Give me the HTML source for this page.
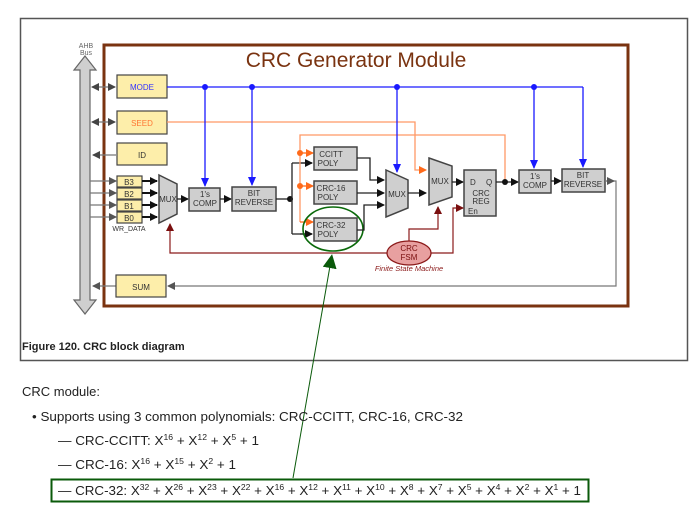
<!DOCTYPE html>
<html><head><meta charset="utf-8"><style>
html,body{margin:0;padding:0;background:#fff;}
svg{display:block;font-family:"Liberation Sans",sans-serif;}
.b{fill:#cfcfcf;stroke:#444;stroke-width:1.5}
.y{fill:#fdeeaa;stroke:#444;stroke-width:1.2}
.t{font-size:8px;fill:#333;text-anchor:middle}
.k{stroke:#222;stroke-width:1.3;fill:none}
.bl{stroke:#1a1aff;stroke-width:1.3;fill:none}
.or{stroke:#ff9966;stroke-width:1.3;fill:none}
.dr{stroke:#8b1a1a;stroke-width:1.2;fill:none}
.g{stroke:#777;stroke-width:1.2;fill:none}
.p{font-size:12.5px;fill:#222}
</style></head><body>
<svg width="700" height="514" viewBox="0 0 700 514">
<defs>
<marker id="ak" markerWidth="8" markerHeight="8" refX="7" refY="4" orient="auto" markerUnits="userSpaceOnUse"><path d="M0,0L8,4L0,8z" fill="#111"/></marker>
<marker id="ab" markerWidth="10" markerHeight="8" refX="8" refY="4" orient="auto" markerUnits="userSpaceOnUse"><path d="M0,0L9,4L0,8z" fill="#1a1aff"/></marker>
<marker id="ao" markerWidth="8" markerHeight="8" refX="7" refY="4" orient="auto" markerUnits="userSpaceOnUse"><path d="M0,0L8,4L0,8z" fill="#ff6a1a"/></marker>
<marker id="ar" markerWidth="8" markerHeight="8" refX="7" refY="4" orient="auto" markerUnits="userSpaceOnUse"><path d="M0,0L8,4L0,8z" fill="#7a0f0f"/></marker>
<marker id="ag" markerWidth="8" markerHeight="8" refX="7" refY="4" orient="auto" markerUnits="userSpaceOnUse"><path d="M0,0L8,4L0,8z" fill="#555"/></marker>
<marker id="agr" markerWidth="14" markerHeight="14" refX="2" refY="7" orient="auto" markerUnits="userSpaceOnUse"><path d="M0,0L14,7L0,14z" fill="#0a5a0a"/></marker>
<marker id="ad" markerWidth="8" markerHeight="8" refX="7" refY="4" orient="auto-start-reverse" markerUnits="userSpaceOnUse"><path d="M0,0L8,4L0,8z" fill="#444"/></marker>
</defs>
<rect x="20.5" y="18.5" width="667" height="342" fill="#fff" stroke="#555" stroke-width="1.5"/>
<rect x="104" y="45" width="524" height="261" fill="#fff" stroke="#7a3310" stroke-width="3"/>
<text x="356" y="67" font-size="21" fill="#7a3310" text-anchor="middle">CRC Generator Module</text>
<text x="86" y="48" font-size="7" fill="#666" text-anchor="middle">AHB</text>
<text x="86" y="55" font-size="7" fill="#666" text-anchor="middle">Bus</text>
<path d="M85,56 L96,70 L90,70 L90,300 L96,300 L85,314 L74,300 L80,300 L80,70 L74,70 Z" fill="#cfcfcf" stroke="#666" stroke-width="1.2"/>
<line x1="92" y1="87" x2="115" y2="87" class="g" stroke="#444" marker-start="url(#ad)" marker-end="url(#ad)"/>
<line x1="92" y1="122" x2="115" y2="122" class="g" stroke="#444" marker-start="url(#ad)" marker-end="url(#ad)"/>
<line x1="116" y1="155" x2="93" y2="155" class="g" stroke="#444" marker-end="url(#ad)"/>
<line x1="90" y1="181" x2="116" y2="181" class="g" marker-end="url(#ag)"/>
<line x1="90" y1="193" x2="116" y2="193" class="g" marker-end="url(#ag)"/>
<line x1="90" y1="205" x2="116" y2="205" class="g" marker-end="url(#ag)"/>
<line x1="90" y1="217" x2="116" y2="217" class="g" marker-end="url(#ag)"/>
<line x1="116" y1="286" x2="93" y2="286" class="g" marker-end="url(#ag)"/>
<rect x="117" y="75" width="50" height="23" class="y"/><text x="142" y="90" class="t" style="fill:#3333ff">MODE</text>
<rect x="117" y="111" width="50" height="23" class="y"/><text x="142" y="126" class="t" style="fill:#ff7733">SEED</text>
<rect x="117" y="143" width="50" height="22" class="y"/><text x="142" y="158" class="t">ID</text>
<rect x="117" y="176" width="25" height="11" class="y"/><text x="129" y="185" class="t">B3</text>
<rect x="117" y="188" width="25" height="11" class="y"/><text x="129" y="197" class="t">B2</text>
<rect x="117" y="200" width="25" height="11" class="y"/><text x="129" y="209" class="t">B1</text>
<rect x="117" y="212" width="25" height="11" class="y"/><text x="129" y="221" class="t">B0</text>
<text x="129" y="231" font-size="7" fill="#333" text-anchor="middle">WR_DATA</text>
<rect x="116" y="275" width="50" height="22" class="y"/><text x="141" y="290" class="t">SUM</text>
<g stroke="#111" stroke-width="2"><line x1="142" y1="181" x2="157" y2="181" marker-end="url(#ak)"/><line x1="142" y1="193" x2="157" y2="193" marker-end="url(#ak)"/><line x1="142" y1="205" x2="157" y2="205" marker-end="url(#ak)"/><line x1="142" y1="217" x2="157" y2="217" marker-end="url(#ak)"/></g>
<path d="M159,175 L177,184 L177,214 L159,223 Z" class="b"/><text x="168" y="202" class="t">MUX</text>
<line x1="177" y1="199" x2="188" y2="199" class="k" marker-end="url(#ak)"/>
<rect x="189" y="188" width="31" height="23" class="b"/><text x="205" y="197" class="t">1's</text><text x="205" y="206" class="t">COMP</text>
<line x1="220" y1="199" x2="231" y2="199" class="k" marker-end="url(#ak)"/>
<rect x="232" y="187" width="44" height="24" class="b"/><text x="254" y="196" class="t">BIT</text><text x="254" y="205" class="t">REVERSE</text>
<line x1="276" y1="199" x2="290" y2="199" class="k"/>
<circle cx="290" cy="199" r="3" fill="#111"/>
<path d="M290,199 L292,199 M292,163 L292,234 M292,163 L312,163 M292,234 L312,234" class="k"/>
<line x1="300" y1="163" x2="312" y2="163" class="k" marker-end="url(#ak)"/>
<line x1="300" y1="234" x2="312" y2="234" class="k" marker-end="url(#ak)"/>
<path d="M167,122 L415,122 L415,170 L426,170" class="or" marker-end="url(#ao)"/>
<path d="M300,222 L300,135 L505,135 L505,182" class="or"/>
<circle cx="300" cy="153" r="3" fill="#ff6a1a"/><circle cx="300" cy="186" r="3" fill="#ff6a1a"/>
<line x1="300" y1="153" x2="313" y2="153" stroke="#ff6a1a" stroke-width="1.3" marker-end="url(#ao)"/>
<line x1="300" y1="186" x2="313" y2="186" stroke="#ff6a1a" stroke-width="1.3" marker-end="url(#ao)"/>
<line x1="300" y1="222" x2="313" y2="222" stroke="#ff6a1a" stroke-width="1.3" marker-end="url(#ao)"/>
<rect x="314" y="147" width="43" height="23" class="b"/><text x="331" y="157" class="t">CCITT</text><text x="328" y="166" class="t">POLY</text>
<rect x="314" y="181" width="43" height="23" class="b"/><text x="331" y="191" class="t">CRC-16</text><text x="328" y="200" class="t">POLY</text>
<rect x="314" y="218" width="43" height="23" class="b"/><text x="331" y="228" class="t">CRC-32</text><text x="328" y="237" class="t">POLY</text>
<ellipse cx="333" cy="229" rx="30" ry="22" fill="none" stroke="#0a6a0a" stroke-width="1.6"/>
<path d="M357,158 L370,158 L370,180 L384,180" class="k" marker-end="url(#ak)"/>
<line x1="357" y1="193" x2="384" y2="193" class="k" marker-end="url(#ak)"/>
<path d="M357,230 L364,230 L364,205 L384,205" class="k" marker-end="url(#ak)"/>
<path d="M386,170 L408,180 L408,208 L386,217 Z" class="b"/><text x="397" y="197" class="t">MUX</text>
<line x1="408" y1="193" x2="426" y2="193" class="k" marker-end="url(#ak)"/>
<path d="M429,158 L452,166 L452,197 L429,205 Z" class="b"/><text x="440" y="184" class="t">MUX</text>
<line x1="452" y1="182" x2="463" y2="182" class="k" marker-end="url(#ak)"/>
<rect x="464" y="170" width="32" height="46" class="b"/>
<text x="470" y="185" font-size="8" fill="#333">D</text><text x="486" y="185" font-size="8" fill="#333">Q</text>
<text x="481" y="196" class="t">CRC</text><text x="481" y="204" class="t">REG</text><text x="468" y="214" font-size="8" fill="#333">En</text>
<line x1="496" y1="182" x2="518" y2="182" class="k" marker-end="url(#ak)"/>
<circle cx="505" cy="182" r="3" fill="#111"/>
<rect x="519" y="170" width="32" height="23" class="b"/><text x="535" y="179" class="t">1's</text><text x="535" y="188" class="t">COMP</text>
<line x1="551" y1="181" x2="561" y2="181" class="k" marker-end="url(#ak)"/>
<rect x="562" y="169" width="43" height="23" class="b"/><text x="583" y="178" class="t">BIT</text><text x="583" y="187" class="t">REVERSE</text>
<path d="M167,87 L583,87" class="bl"/>
<line x1="205" y1="87" x2="205" y2="186" class="bl" marker-end="url(#ab)"/>
<line x1="252" y1="87" x2="252" y2="185" class="bl" marker-end="url(#ab)"/>
<line x1="397" y1="87" x2="397" y2="172" class="bl" marker-end="url(#ab)"/>
<line x1="534" y1="87" x2="534" y2="168" class="bl" marker-end="url(#ab)"/>
<line x1="583" y1="87" x2="583" y2="167" class="bl" marker-end="url(#ab)"/>
<g fill="#1a1aff"><circle cx="205" cy="87" r="3"/><circle cx="252" cy="87" r="3"/><circle cx="397" cy="87" r="3"/><circle cx="534" cy="87" r="3"/></g>
<path d="M605,181 L616,181 L616,286 L168,286" class="g" marker-end="url(#ag)"/>
<line x1="605" y1="181" x2="614" y2="181" class="g" marker-end="url(#ag)"/>
<path d="M388,253 L170,253 L170,224" class="dr" marker-end="url(#ar)"/>
<path d="M409,241 L409,229 L438,229 L438,207" class="dr" marker-end="url(#ar)"/>
<path d="M431,253 L453,253 L453,208 L463,208" class="dr" marker-end="url(#ar)"/>
<ellipse cx="409" cy="253" rx="22" ry="12" fill="#e8a0a0" stroke="#8b1a1a" stroke-width="1.3"/>
<text x="409" y="251" class="t" style="fill:#7a1010">CRC</text><text x="409" y="260" class="t" style="fill:#7a1010">FSM</text>
<text x="409" y="271" font-size="7.5" font-style="italic" fill="#8b1a1a" text-anchor="middle">Finite State Machine</text>
<text x="22" y="350" font-size="11" font-weight="bold" fill="#222">Figure 120.  CRC block diagram</text>
<line x1="293" y1="478" x2="330" y2="266" stroke="#0a5a0a" stroke-width="1" marker-end="url(#agr)"/>
<text x="22" y="396" class="p" textLength="78" lengthAdjust="spacingAndGlyphs">CRC module:</text>
<text x="32" y="421" class="p" textLength="431" lengthAdjust="spacingAndGlyphs">•  Supports using 3 common polynomials: CRC-CCITT, CRC-16, CRC-32</text>
<text x="58" y="445" class="p" textLength="201" lengthAdjust="spacingAndGlyphs">— CRC-CCITT: X<tspan font-size="8" dy="-5">16</tspan><tspan dy="5"> + X</tspan><tspan font-size="8" dy="-5">12</tspan><tspan dy="5"> + X</tspan><tspan font-size="8" dy="-5">5</tspan><tspan dy="5"> + 1</tspan></text>
<text x="58" y="469" class="p" textLength="178" lengthAdjust="spacingAndGlyphs">— CRC-16: X<tspan font-size="8" dy="-5">16</tspan><tspan dy="5"> + X</tspan><tspan font-size="8" dy="-5">15</tspan><tspan dy="5"> + X</tspan><tspan font-size="8" dy="-5">2</tspan><tspan dy="5"> + 1</tspan></text>
<rect x="51.5" y="479.5" width="537" height="22" fill="none" stroke="#0a5a0a" stroke-width="2"/>
<text x="58" y="495" class="p" textLength="523" lengthAdjust="spacingAndGlyphs">— CRC-32: X<tspan font-size="8" dy="-5">32</tspan><tspan dy="5"> + X</tspan><tspan font-size="8" dy="-5">26</tspan><tspan dy="5"> + X</tspan><tspan font-size="8" dy="-5">23</tspan><tspan dy="5"> + X</tspan><tspan font-size="8" dy="-5">22</tspan><tspan dy="5"> + X</tspan><tspan font-size="8" dy="-5">16</tspan><tspan dy="5"> + X</tspan><tspan font-size="8" dy="-5">12</tspan><tspan dy="5"> + X</tspan><tspan font-size="8" dy="-5">11</tspan><tspan dy="5"> + X</tspan><tspan font-size="8" dy="-5">10</tspan><tspan dy="5"> + X</tspan><tspan font-size="8" dy="-5">8</tspan><tspan dy="5"> + X</tspan><tspan font-size="8" dy="-5">7</tspan><tspan dy="5"> + X</tspan><tspan font-size="8" dy="-5">5</tspan><tspan dy="5"> + X</tspan><tspan font-size="8" dy="-5">4</tspan><tspan dy="5"> + X</tspan><tspan font-size="8" dy="-5">2</tspan><tspan dy="5"> + X</tspan><tspan font-size="8" dy="-5">1</tspan><tspan dy="5"> + 1</tspan></text>
</svg>
</body></html>
